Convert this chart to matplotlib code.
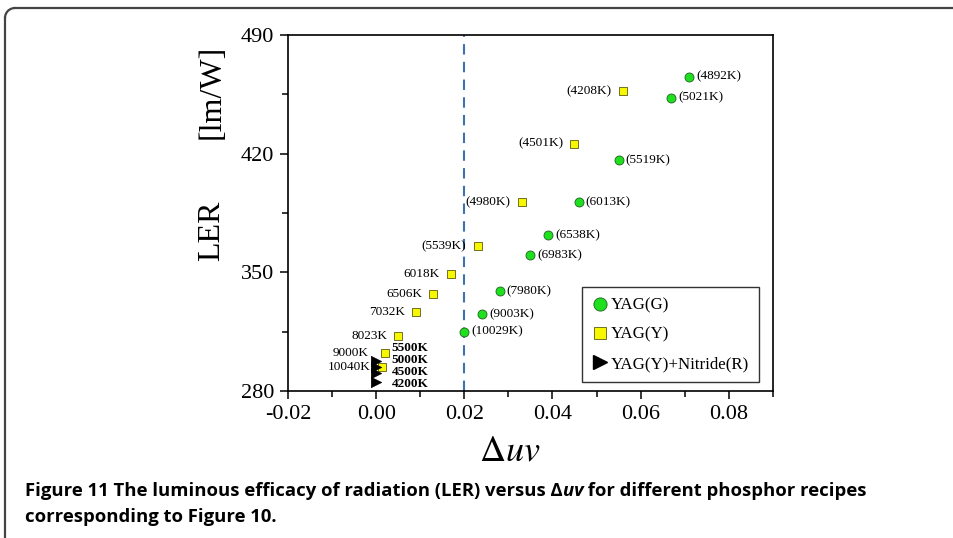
import matplotlib
matplotlib.use("Agg")
import matplotlib.pyplot as plt
from matplotlib.lines import Line2D
from matplotlib.patches import Arc
from matplotlib.transforms import IdentityTransform
from matplotlib.ticker import MultipleLocator, FormatStrFormatter

plt.rcParams['font.family'] = ['Liberation Serif', 'DejaVu Serif']
plt.rcParams['mathtext.fontset'] = 'stix'
plt.rcParams['axes.unicode_minus'] = False

# YAG(G) green circles
g_duv = [0.071, 0.067, 0.055, 0.046, 0.039, 0.035, 0.028, 0.024, 0.020]
g_ler = [465.5, 453.0, 416.0, 391.5, 372.0, 360.0, 339.0, 325.5, 315.0]
g_cct = ['(4892K)', '(5021K)', '(5519K)', '(6013K)', '(6538K)', '(6983K)',
         '(7980K)', '(9003K)', '(10029K)']

# YAG(Y) yellow squares
y_duv = [0.056, 0.045, 0.033, 0.023, 0.017, 0.013, 0.009, 0.005, 0.002, 0.0013]
y_ler = [457.0, 426.0, 391.5, 365.5, 349.0, 337.5, 326.5, 312.5, 302.5, 294.5]
y_cct = ['(4208K)', '(4501K)', '(4980K)', '(5539K)', '6018K', '6506K',
         '7032K', '8023K', '9000K', '10040K']

# YAG(Y)+Nitride(R) black triangles
n_duv = [0.0, 0.0, 0.0, 0.0]
n_ler = [298.0, 294.3, 290.4, 285.5]
n_cct = ['5500K', '5000K', '4500K', '4200K']

W, H = 954, 538
fig = plt.figure(figsize=(W / 100, H / 100), dpi=100)
ax = fig.add_axes([0.302, 0.273, 0.508, 0.662])

# page frame: top and left edges with one rounded corner, in pixels
r, fx, fy = 10, 5, H - 8
frame_kw = dict(transform=IdentityTransform(), color='#444444', linewidth=1.6)
fig.add_artist(Line2D([fx + r, W + 5], [fy, fy], **frame_kw))
fig.add_artist(Line2D([fx, fx], [fy - r, -5], **frame_kw))
fig.add_artist(Arc((fx + r, fy - r), 2 * r, 2 * r, theta1=90, theta2=180,
                   transform=IdentityTransform(), color='#444444', linewidth=1.6))

ax.axvline(0.02, color='#3d72b0', linestyle=(0, (5, 3.5)), linewidth=1.5, zorder=1)

ax.scatter(g_duv, g_ler, s=42, marker='o', facecolor='#1fe01f',
           edgecolor='#1f5f1f', linewidth=0.6, zorder=3)
ax.scatter(y_duv, y_ler, s=34, marker='s', facecolor='#f7f700',
           edgecolor='#5a5a10', linewidth=0.6, zorder=3)
ax.scatter(n_duv, n_ler, s=55, marker='>', facecolor='black',
           edgecolor='black', linewidth=0.5, zorder=4)

for x, y, t in zip(g_duv, g_ler, g_cct):
    ax.annotate(t, (x, y), xytext=(5, 0), textcoords='offset points',
                ha='left', va='center', fontsize=9.5)

for x, y, t in zip(y_duv, y_ler, y_cct):
    off = -12 if t == '9000K' else -8
    ax.annotate(t, (x, y), xytext=(off, 0), textcoords='offset points',
                ha='right', va='center', fontsize=9.5)

tri_dy = [9, 5, 1, -1.8]
for x, y, t, dy in zip(n_duv, n_ler, n_cct, tri_dy):
    ax.annotate(t, (x, y), xytext=(11, dy), textcoords='offset points',
                ha='left', va='center', fontsize=9.5, fontweight='bold')

ax.set_xlim(-0.02, 0.09)
ax.set_ylim(280, 490)
ax.xaxis.set_major_locator(MultipleLocator(0.02))
ax.xaxis.set_minor_locator(MultipleLocator(0.01))
ax.xaxis.set_major_formatter(FormatStrFormatter('%.2f'))
ax.yaxis.set_major_locator(MultipleLocator(70))
ax.yaxis.set_minor_locator(MultipleLocator(35))
ax.tick_params(which='both', direction='out', top=False, right=False,
               labelsize=16, width=1.1)
ax.tick_params(which='major', length=6, pad=4)
ax.tick_params(which='minor', length=4)
for sp in ax.spines.values():
    sp.set_linewidth(1.2)

handles = [
    Line2D([], [], marker='o', linestyle='none', markersize=9.5,
           markerfacecolor='#1fe01f', markeredgecolor='#1f5f1f', markeredgewidth=0.6),
    Line2D([], [], marker='s', linestyle='none', markersize=9,
           markerfacecolor='#f7f700', markeredgecolor='#5a5a10', markeredgewidth=0.6),
    Line2D([], [], marker='>', linestyle='none', markersize=9.5,
           markerfacecolor='black', markeredgecolor='black'),
]
leg = ax.legend(handles, ['YAG(G)', 'YAG(Y)', 'YAG(Y)+Nitride(R)'],
                loc='lower right', bbox_to_anchor=(0.983, 0.01), fontsize=12.2,
                frameon=True, fancybox=False, edgecolor='black',
                handlelength=0.8, handletextpad=0.25, borderpad=0.62,
                labelspacing=0.78, borderaxespad=0.3)
leg.get_frame().set_linewidth(1.0)

fig.text(212 / W, 1 - 231 / H, 'LER', rotation=90, fontsize=23,
         ha='center', va='center')
fig.text(212 / W, 1 - 92 / H, '[lm/W]', rotation=90, fontsize=23,
         ha='center', va='center')
fig.text(510 / W, 1 - 452 / H, r'$\Delta uv$', fontsize=26,
         ha='center', va='center')

# caption, built from pieces so that "uv" can be bold italic sans
cap_font = ['Open Sans', 'DejaVu Sans']
cap_kw = dict(fontsize=13.3, fontweight='bold', family=cap_font, va='baseline')
renderer = fig.canvas.get_renderer()
cx, cy = 25 / W, 1 - 496 / H
pieces = [('Figure 11 The luminous efficacy of radiation (LER) versus \u0394', 'normal'),
          ('uv', 'italic'),
          (' for different phosphor recipes', 'normal')]
for txt, style in pieces:
    t = fig.text(cx, cy, txt, style=style, **cap_kw)
    bb = t.get_window_extent(renderer)
    cx = bb.x1 / W
fig.text(25 / W, 1 - 522 / H, 'corresponding to Figure 10.', **cap_kw)

fig.savefig('out.png', dpi=100)
